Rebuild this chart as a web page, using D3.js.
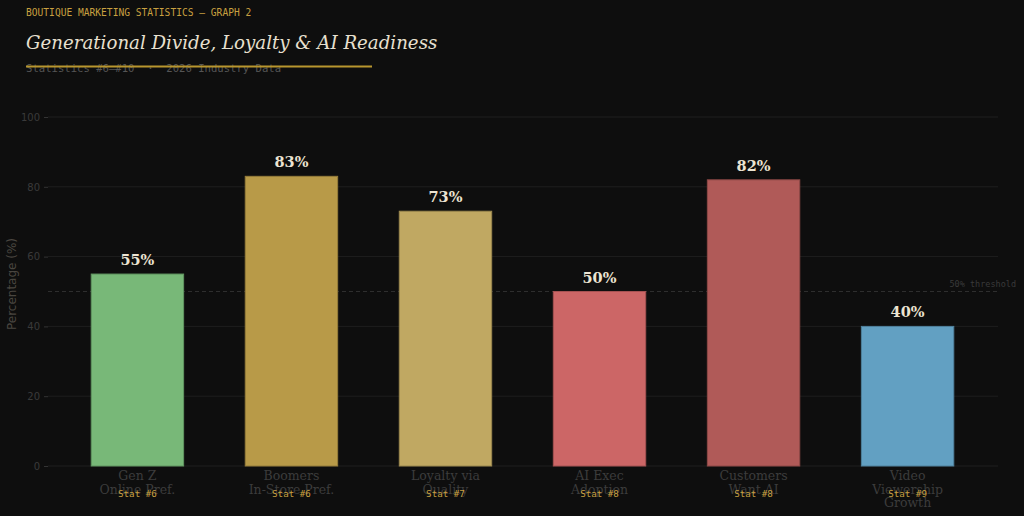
<!DOCTYPE html>
<html>
<head>
<meta charset="utf-8">
<script src="https://cdn.jsdelivr.net/npm/d3@7"></script>
<style>
  html, body { margin: 0; padding: 0; background: #0e0e0e; }
  svg { display: block; }
</style>
</head>
<body>
<svg width="1024" height="516"></svg>
<script>
const categories = [["Gen Z", "Online Pref."], ["Boomers", "In-Store Pref."], ["Loyalty via", "Quality"], ["AI Exec", "Adoption"], ["Customers", "Want AI"], ["Video", "Viewership", "Growth"]];
const values = [55, 83, 73, 50, 82, 40];
const statLabels = ["Stat #6", "Stat #6", "Stat #7", "Stat #8", "Stat #8", "Stat #9"];
const barColors = ["#78b878", "#b89a48", "#c0a862", "#cc6666", "#b05a58", "#62a0c2"];
const yTicks = [0, 20, 40, 60, 80, 100];
const threshold = 50;

const svg = d3.select("svg");
const mono = "'DejaVu Sans Mono', monospace";
const serif = "'DejaVu Serif', serif";
const sans = "'DejaVu Sans', sans-serif";

// header
svg.append("text").attr("x", 26).attr("y", 16)
  .attr("font-family", mono).attr("font-size", 9.6).attr("fill", "#c8a040")
  .text("BOUTIQUE MARKETING STATISTICS — GRAPH 2");
svg.append("text").attr("x", 26).attr("y", 49)
  .attr("font-family", serif).attr("font-style", "italic").attr("font-size", 18.2).attr("fill", "#e8e0d0")
  .text("Generational Divide, Loyalty & AI Readiness");
svg.append("text").attr("x", 26).attr("y", 72)
  .attr("font-family", mono).attr("font-size", 10.6).attr("fill", "#555")
  .attr("xml:space", "preserve").style("white-space", "pre")
  .text("Statistics #6–#10  ·  2026 Industry Data");
svg.append("rect").attr("x", 26).attr("y", 65.5).attr("width", 346).attr("height", 2).attr("fill", "#b8962e");

const plotLeft = 48, plotRight = 998, plotTop = 117, plotBottom = 466;

const x = d3.scaleBand().domain(d3.range(values.length)).range([45, 1000]).paddingInner(0.4).paddingOuter(0.3);
const y = d3.scaleLinear().domain([0, 100]).range([plotBottom, plotTop]);

// grid
svg.append("g").selectAll("line").data(yTicks).enter().append("line")
  .attr("x1", plotLeft).attr("x2", plotRight)
  .attr("y1", d => y(d)).attr("y2", d => y(d))
  .attr("stroke", "#1e1e1e").attr("stroke-width", 1);

// y axis
const yAxis = svg.append("g").attr("transform", `translate(${plotLeft},0)`)
  .call(d3.axisLeft(y).tickValues(yTicks).tickSize(4).tickPadding(4));
yAxis.select(".domain").remove();
yAxis.selectAll("line").attr("stroke", "#333");
yAxis.selectAll("text").attr("fill", "#3a3a3a").attr("font-family", sans).attr("font-size", 10);

svg.append("text")
  .attr("transform", `translate(16,284) rotate(-90)`)
  .attr("text-anchor", "middle")
  .attr("font-family", sans).attr("font-size", 12).attr("fill", "#4a4640")
  .text("Percentage (%)");

// threshold
svg.append("line").attr("x1", plotLeft).attr("x2", plotRight)
  .attr("y1", y(threshold)).attr("y2", y(threshold))
  .attr("stroke", "#2e2e2e").attr("stroke-dasharray", "4,3");
svg.append("text").attr("x", 1016).attr("y", y(threshold) - 5)
  .attr("text-anchor", "end").attr("font-family", mono).attr("font-size", 8.5).attr("fill", "#3a3a3a")
  .text("50% threshold");

// bars
svg.append("g").selectAll("rect").data(values).enter().append("rect")
  .attr("x", (_, i) => x(i))
  .attr("y", d => y(d))
  .attr("width", x.bandwidth())
  .attr("height", d => plotBottom - y(d))
  .attr("fill", (_, i) => barColors[i])
  .attr("stroke", (_, i) => d3.color(barColors[i]).darker(0.6))
  .attr("stroke-width", 1);

// value labels
svg.append("g").selectAll("text").data(values).enter().append("text")
  .attr("x", (_, i) => x(i) + x.bandwidth() / 2)
  .attr("y", d => y(d) - 9)
  .attr("text-anchor", "middle")
  .attr("font-family", serif).attr("font-weight", "bold").attr("font-size", 14.5).attr("fill", "#ece4d2")
  .text(d => d + "%");

// category labels
const cat = svg.append("g").selectAll("text").data(categories).enter().append("text")
  .attr("x", (_, i) => x(i) + x.bandwidth() / 2)
  .attr("y", 480)
  .attr("text-anchor", "middle")
  .attr("font-family", serif).attr("font-size", 12.5).attr("fill", "#3c3c3c");
cat.selectAll("tspan").data(d => d).enter().append("tspan")
  .attr("x", function () { return d3.select(this.parentNode).attr("x"); })
  .attr("dy", (_, j) => j === 0 ? 0 : 13.5)
  .text(d => d);

// stat labels
svg.append("g").selectAll("text").data(statLabels).enter().append("text")
  .attr("x", (_, i) => x(i) + x.bandwidth() / 2)
  .attr("y", 497)
  .attr("text-anchor", "middle")
  .attr("font-family", mono).attr("font-size", 9.2).attr("fill", "#c8a040")
  .text(d => d);
</script>
</body>
</html>
